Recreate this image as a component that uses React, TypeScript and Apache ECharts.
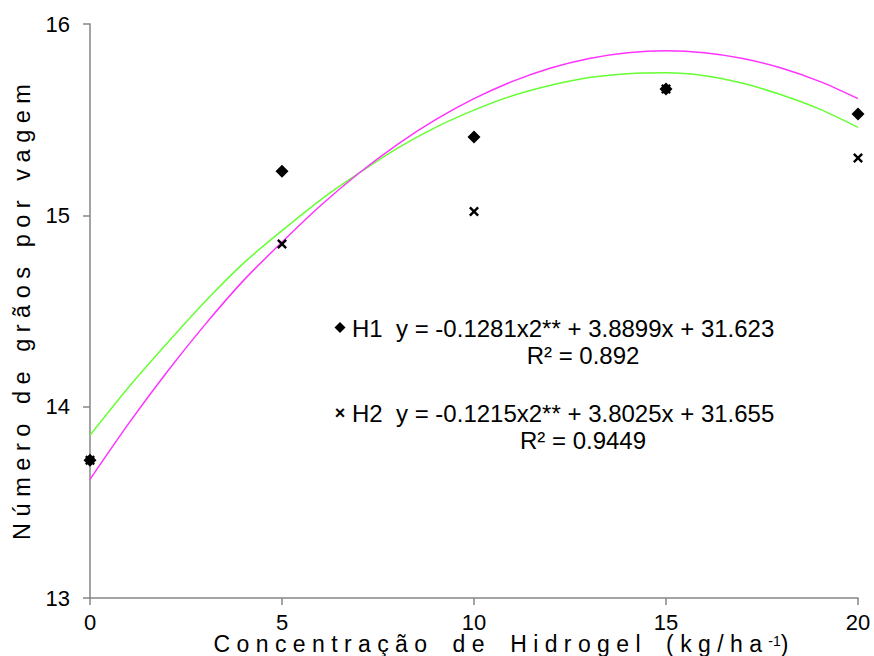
import React, { useEffect, useRef } from "react";
import * as echarts from "echarts";

// ---- data ----
const xTicks = [0, 5, 10, 15, 20];
const yTicks = [13, 14, 15, 16];
const doses = [0, 5, 10, 15, 20];
const h1Values = [13.72, 15.23, 15.41, 15.66, 15.53];
const h2Values = [13.72, 14.85, 15.02, 15.66, 15.3];
// trend curves at every unit of x
const curveX = [0, 1, 2, 3, 4, 5, 6, 7, 8, 9, 10, 11, 12, 13, 14, 15, 16, 17, 18, 19, 20];
const h1Trend = [
  13.62, 13.91, 14.18, 14.43, 14.66, 14.86, 15.05, 15.22, 15.37, 15.5, 15.61,
  15.7, 15.77, 15.82, 15.85, 15.86, 15.85, 15.82, 15.77, 15.7, 15.61,
];
const h2Trend = [
  13.85, 14.1, 14.33, 14.55, 14.75, 14.92, 15.08, 15.22, 15.35, 15.46, 15.55,
  15.625, 15.68, 15.72, 15.74, 15.745, 15.73, 15.69, 15.63, 15.555, 15.46,
];
const h1Equation = "y = -0.1281x2** + 3.8899x + 31.623";
const h1R2 = "R² = 0.892";
const h2Equation = "y = -0.1215x2** + 3.8025x + 31.655";
const h2R2 = "R² = 0.9449";
const yTitleWords = ["Número", "de", "grãos", "por", "vagem"];
const xTitleWords = ["Concentração", "de", "Hidrogel", "(kg/ha"];

const FONT = "'Liberation Sans', Arial, Helvetica, sans-serif";
const spaced = (words: string[], gap: string) => words.map((w) => w.split("").join(" ")).join(gap);
const crossPath =
  "path://M0,1.7 L1.7,0 L5,3.3 L8.3,0 L10,1.7 L6.7,5 L10,8.3 L8.3,10 L5,6.7 L1.7,10 L0,8.3 L3.3,5 Z";

export default function App() {
  const ref = useRef<HTMLDivElement>(null);
  useEffect(() => {
    document.body.style.margin = "0";
    if (!ref.current) return;
    const chart = echarts.init(ref.current, null, { renderer: "svg" });
    const axisColor = "#868686";
    chart.setOption({
      animation: false,
      backgroundColor: "#ffffff",
      textStyle: { fontFamily: FONT },
      grid: { left: 90, right: 16, top: 24, bottom: 58, containLabel: false },
      xAxis: {
        type: "value",
        min: xTicks[0],
        max: xTicks[xTicks.length - 1],
        interval: 5,
        axisLine: { show: true, onZero: false, lineStyle: { color: axisColor, width: 1.5 } },
        axisTick: { show: true, length: 7, lineStyle: { color: axisColor, width: 1.5 } },
        axisLabel: { color: "#000", fontSize: 22, fontFamily: FONT, margin: 13 },
        splitLine: { show: false },
      },
      yAxis: {
        type: "value",
        min: yTicks[0],
        max: yTicks[yTicks.length - 1],
        interval: 1,
        axisLine: { show: true, onZero: false, lineStyle: { color: axisColor, width: 1.5 } },
        axisTick: { show: true, length: 7, lineStyle: { color: axisColor, width: 1.5 } },
        axisLabel: { color: "#000", fontSize: 22, fontFamily: FONT, margin: 20 },
        splitLine: { show: false },
      },
      series: [
        {
          name: "H2 trend",
          type: "line",
          data: curveX.map((x, i) => [x, h2Trend[i]]),
          smooth: 0.3,
          showSymbol: false,
          symbol: "none",
          lineStyle: { color: "#66ff33", width: 1.5 },
          z: 2,
        },
        {
          name: "H1 trend",
          type: "line",
          data: curveX.map((x, i) => [x, h1Trend[i]]),
          smooth: 0.3,
          showSymbol: false,
          symbol: "none",
          lineStyle: { color: "#ff33ff", width: 1.5 },
          z: 2,
        },
        {
          name: "H2",
          type: "scatter",
          data: doses.map((x, i) => [x, h2Values[i]]),
          symbol: crossPath,
          symbolSize: 10,
          itemStyle: { color: "#000", opacity: 1 },
          z: 3,
        },
        {
          name: "H1",
          type: "scatter",
          data: doses.map((x, i) => [x, h1Values[i]]),
          symbol: "diamond",
          symbolSize: 13,
          itemStyle: { color: "#000", opacity: 1 },
          z: 4,
        },
      ],
      graphic: [
        {
          type: "polygon",
          shape: { points: [[340, 322], [345.5, 327.5], [340, 333], [334.5, 327.5]] },
          style: { fill: "#000" },
        },
        {
          type: "text",
          x: 352,
          y: 328,
          style: { text: "H1  " + h1Equation, fontSize: 24, fontFamily: FONT, fill: "#000", align: "left", verticalAlign: "middle" },
        },
        {
          type: "text",
          x: 583,
          y: 355,
          style: { text: h1R2, fontSize: 24, fontFamily: FONT, fill: "#000", align: "center", verticalAlign: "middle" },
        },
        {
          type: "text",
          x: 340,
          y: 413,
          style: { text: "×", fontSize: 18, fontWeight: "bold", fontFamily: FONT, fill: "#000", align: "center", verticalAlign: "middle" },
        },
        {
          type: "text",
          x: 352,
          y: 413,
          style: { text: "H2  " + h2Equation, fontSize: 24, fontFamily: FONT, fill: "#000", align: "left", verticalAlign: "middle" },
        },
        {
          type: "text",
          x: 583,
          y: 440,
          style: { text: h2R2, fontSize: 24, fontFamily: FONT, fill: "#000", align: "center", verticalAlign: "middle" },
        },
        {
          type: "text",
          x: 22,
          y: 312,
          rotation: Math.PI / 2,
          style: { text: spaced(yTitleWords, "   "), fontSize: 23.5, fontFamily: FONT, fill: "#000", align: "center", verticalAlign: "middle" },
        },
        {
          type: "text",
          x: 501,
          y: 644,
          style: {
            text: spaced(xTitleWords, "    ") + " {sup|-1})",
            fontSize: 23,
            lineHeight: 20,
            fontFamily: FONT,
            fill: "#000",
            align: "center",
            verticalAlign: "middle",
            rich: { sup: { fontSize: 14, fontFamily: FONT, fill: "#000", verticalAlign: "top", lineHeight: 20 } },
          },
        },
      ],
    });
    return () => chart.dispose();
  }, []);
  return <div ref={ref} style={{ width: 874, height: 656 }} />;
}
